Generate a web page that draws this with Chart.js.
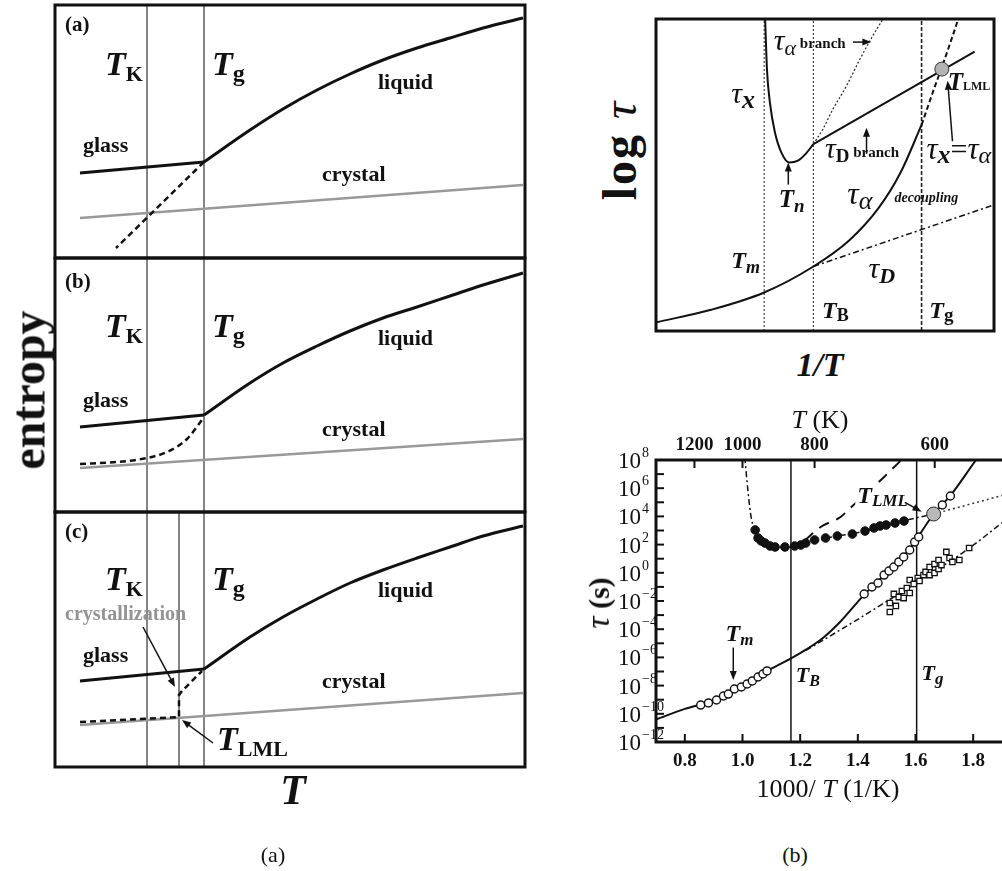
<!DOCTYPE html>
<html>
<head>
<meta charset="utf-8">
<script src="https://cdn.jsdelivr.net/npm/chart.js@4.4.0/dist/chart.umd.min.js"></script>
<style>
  body { margin: 0; width: 1002px; height: 871px; overflow: hidden; background: #fff; position: relative; font-family: 'Liberation Serif', serif; color: #111; }
  canvas { position: absolute; }
  .lbl { position: absolute; white-space: nowrap; line-height: 1; }
  .rot { transform: translate(-50%, -50%) rotate(-90deg); }
  .ctr { transform: translate(-50%, -50%); }
</style>
</head>
<body>
<canvas id="entA"></canvas>
<canvas id="entB"></canvas>
<canvas id="entC"></canvas>
<canvas id="sketch"></canvas>
<canvas id="taus"></canvas>

<div class="lbl rot" style="left:28px;top:390px;font:bold 48px 'Liberation Serif',serif;">entropy</div>
<div class="lbl ctr" style="left:293px;top:790px;font:italic bold 42px 'Liberation Serif',serif;">T</div>
<div class="lbl ctr" style="left:273px;top:855px;font:22px 'Liberation Serif',serif;">(a)</div>
<div class="lbl ctr" style="left:795px;top:855px;font:22px 'Liberation Serif',serif;">(b)</div>

<div class="lbl rot" style="left:619px;top:150px;font:bold 48px 'Liberation Serif',serif;letter-spacing:2px;">log <span style="font-style:italic;font-weight:normal;">τ</span></div>
<div class="lbl ctr" style="left:820px;top:365px;font:italic bold 34px 'Liberation Serif',serif;">1/T</div>

<div class="lbl ctr" style="left:820px;top:420px;font:26px 'Liberation Serif',serif;"><i>T</i> (K)</div>
<div class="lbl ctr" style="left:828px;top:789px;font:26px 'Liberation Serif',serif;">1000/ <i>T</i> (1/K)</div>
<div class="lbl rot" style="left:598px;top:603px;font:bold 30px 'Liberation Serif',serif;"><span style="font-style:italic;font-weight:normal;font-size:34px;">τ</span> (s)</div>

<script>
// ---------- entropy vs T sketches (arbitrary units) ----------
const T_K = 92, T_G = 149, T_LML = 124;

const glassA = [[25, 85], [149, 96]];
const liquidA = [[149, 96], [195, 128], [228, 149], [262, 168], [295, 184], [328, 198], [362, 210], [395, 220], [428, 230], [468, 240]];
const crystalA = [[25, 40], [468, 73]];
const supercooledA = [[149, 96], [61, 10]];

const glassB = [[25, 85], [149, 97]];
const liquidB = [[149, 97], [195, 129], [228, 149], [262, 166], [295, 181], [328, 194], [362, 205], [395, 216], [428, 227], [468, 239]];
const crystalB = [[25, 44], [468, 73]];
const supercooledB = [[25, 48], [62, 50], [92, 54], [112, 60], [132, 73], [147, 92]];

const glassC = [[25, 86], [149, 98]];
const liquidC = [[149, 98], [195, 130], [228, 150], [262, 168], [295, 184], [328, 197], [362, 209], [395, 220], [428, 231], [468, 241]];
const crystalC = [[25, 42], [468, 74]];
const supercooledC = [[25, 45], [124, 50], [124, 72], [127, 76], [147, 96]];

// ---------- log tau vs 1/T schematic (arbitrary units) ----------
const X_M = 112, X_B = 163, X_G = 275;
const tauAlpha = [[0, 9], [57, 22], [112, 40], [163, 67], [200, 94], [230, 127], [253, 164], [275, 214]];
const tauAlphaGlass = [[275, 214], [287, 249], [296, 274], [305, 300], [313, 324]];
const tauD = [[163, 67], [350, 131]];
const tauX = [[113, 324], [115, 270], [118, 237], [123, 207], [130, 185], [138, 175], [147, 177], [155, 184], [163, 194]];
const tauDBranch = [[163, 194], [330, 290]];
const tauAlphaBranch = [[163, 194], [173, 210], [183, 230], [197, 254], [210, 280], [223, 304], [235, 324]];
const lmlPoint = [[296, 272]];

// ---------- measured relaxation times, x = 1000/T (1/K), y = log10(tau / s) ----------
const xTicks = [0.8, 1.0, 1.2, 1.4, 1.6, 1.8];
const tempTicks = [1200, 1000, 800, 600];
const yExp = [-12, -10, -8, -6, -4, -2, 0, 2, 4, 6, 8];
const invTB = 1.168, invTg = 1.604;

const alphaData = [
  [0.855, -9.38], [0.882, -9.23], [0.910, -9.02], [0.934, -8.74], [0.951, -8.60], [0.972, -8.24],
  [0.996, -8.10], [1.016, -7.89], [1.034, -7.67], [1.054, -7.39], [1.071, -7.18], [1.085, -6.96],
  [1.422, -1.50], [1.449, -1.01], [1.470, -0.72], [1.491, -0.16], [1.508, 0.13], [1.525, 0.41],
  [1.542, 0.77], [1.559, 1.12], [1.580, 1.62], [1.597, 2.18], [1.611, 2.54], [1.693, 4.81], [1.721, 5.45]
];
const crystData = [
  [1.044, 3.04], [1.054, 2.47], [1.065, 2.26], [1.078, 2.11], [1.096, 1.90], [1.113, 1.83],
  [1.147, 1.83], [1.181, 1.90], [1.202, 1.97], [1.219, 2.11], [1.250, 2.33], [1.288, 2.47],
  [1.329, 2.61], [1.381, 2.75], [1.425, 2.96], [1.456, 3.18], [1.477, 3.32], [1.498, 3.39],
  [1.529, 3.53], [1.560, 3.67]
];
const decoupData = [
  [1.511, -2.78], [1.511, -2.14], [1.532, -2.35], [1.525, -1.50], [1.542, -1.72], [1.559, -1.79],
  [1.553, -1.29], [1.570, -1.08], [1.580, -1.43], [1.580, -0.51], [1.594, -0.79], [1.608, -0.37],
  [1.614, -0.58], [1.628, -0.16], [1.635, 0.06], [1.649, -0.16], [1.649, 0.41], [1.666, -0.01],
  [1.666, 0.62], [1.680, 0.27], [1.680, 0.91], [1.690, 0.55], [1.707, 1.48], [1.718, 1.05],
  [1.728, 0.77], [1.752, 0.91], [1.786, 1.76]
];
const lmlData = [[1.663, 4.17]];
const alphaFit = [
  [0.70, -10.4], [0.80, -9.65], [0.90, -9.05], [1.00, -8.05], [1.10, -6.8], [1.17, -6.05],
  [1.22, -5.45], [1.28, -4.6], [1.34, -3.45], [1.42, -1.6], [1.50, 0.0], [1.58, 1.7],
  [1.663, 4.17], [1.72, 5.45], [1.81, 8.0], [1.84, 8.8]
];
const decoupFit = [[1.22, -5.5], [1.40, -3.3], [1.51, -1.9], [1.65, -0.1], [1.79, 1.8], [1.90, 3.55]];
const crystFit = [
  [1.008, 8.2], [1.018, 6.0], [1.028, 4.2], [1.040, 3.1], [1.054, 2.5], [1.075, 2.1], [1.10, 1.9],
  [1.15, 1.8], [1.20, 1.95], [1.30, 2.5], [1.40, 2.85], [1.50, 3.4], [1.56, 3.7], [1.663, 4.17]
];
const crystExt = [[1.663, 4.17], [1.90, 5.48]];
const alphaBranchFit = [[1.216, 2.3], [1.271, 3.25], [1.340, 3.96], [1.374, 4.6], [1.491, 6.8], [1.546, 7.9], [1.56, 8.2]];

// ---------- helpers ----------
const SERIF = "'Liberation Serif', 'Times New Roman', serif";
const R = s => `${s}px ${SERIF}`;
const B = s => `bold ${s}px ${SERIF}`;
const I = s => `italic ${s}px ${SERIF}`;
const BI = s => `italic bold ${s}px ${SERIF}`;

const pts = a => a.map(([x, y]) => ({ x, y }));

function line(data, color, width, dash, smooth) {
  return {
    data: pts(data), showLine: true, borderColor: color, borderWidth: width,
    borderDash: dash || [], pointRadius: 0, fill: false,
    cubicInterpolationMode: smooth ? 'monotone' : 'default', tension: 0
  };
}

function vline(x, y0, y1, color, width, dash) {
  return line([[x, y0], [x, y1]], color, width, dash);
}

function place(id, left, top, w, h) {
  const c = document.getElementById(id);
  c.width = w; c.height = h;
  c.style.left = left + 'px'; c.style.top = top + 'px';
  return c;
}

// text runs with their own font and baseline shift; knockout paints white behind first
function drawRich(ctx, px, py, parts, knockout) {
  ctx.textBaseline = 'alphabetic';
  ctx.textAlign = 'left';
  if (knockout) {
    let w = 0;
    parts.forEach(p => { ctx.font = p.f; w += ctx.measureText(p.t).width + (p.dx || 0); });
    ctx.fillStyle = '#fff';
    ctx.fillRect(px - 2, py - 20, w + 4, 26);
  }
  let cx = px;
  parts.forEach(p => {
    ctx.font = p.f;
    ctx.fillStyle = p.c || '#111';
    cx += p.dx || 0;
    ctx.fillText(p.t, cx, py + (p.dy || 0));
    cx += ctx.measureText(p.t).width;
  });
}

function drawArrow(ctx, x0, y0, x1, y1) {
  const ang = Math.atan2(y1 - y0, x1 - x0);
  const len = 9, half = 3.5;
  ctx.strokeStyle = '#111'; ctx.fillStyle = '#111'; ctx.lineWidth = 1.5; ctx.setLineDash([]);
  ctx.beginPath();
  ctx.moveTo(x0, y0);
  ctx.lineTo(x1 - Math.cos(ang) * len * 0.8, y1 - Math.sin(ang) * len * 0.8);
  ctx.stroke();
  ctx.beginPath();
  ctx.moveTo(x1, y1);
  ctx.lineTo(x1 - Math.cos(ang) * len - Math.sin(ang) * half, y1 - Math.sin(ang) * len + Math.cos(ang) * half);
  ctx.lineTo(x1 - Math.cos(ang) * len + Math.sin(ang) * half, y1 - Math.sin(ang) * len - Math.cos(ang) * half);
  ctx.closePath();
  ctx.fill();
}

// frame, arrows and in-plot labels, all placed in data units
function decor(cfg) {
  return {
    id: 'decor',
    afterDatasetsDraw(chart) {
      const { ctx, chartArea: a, scales: { x, y } } = chart;
      ctx.save();
      ctx.setLineDash([]);
      ctx.strokeStyle = '#111';
      ctx.lineWidth = cfg.frame || 3;
      ctx.strokeRect(a.left, a.top, a.right - a.left, a.bottom - a.top);
      (cfg.arrows || []).forEach(r => drawArrow(ctx,
        x.getPixelForValue(r[0]), y.getPixelForValue(r[1]),
        x.getPixelForValue(r[2]), y.getPixelForValue(r[3])));
      (cfg.labels || []).forEach(l => drawRich(ctx, x.getPixelForValue(l.x), y.getPixelForValue(l.y), l.parts));
      ctx.restore();
    }
  };
}

function baseOptions(xr, yr, pad) {
  return {
    responsive: false, animation: false, devicePixelRatio: 1, events: [],
    layout: { padding: pad },
    plugins: { legend: { display: false }, tooltip: { enabled: false } },
    scales: {
      x: { type: 'linear', min: xr[0], max: xr[1], display: false },
      y: { type: 'linear', min: yr[0], max: yr[1], display: false }
    }
  };
}

const TSUB = (sub, y) => ({ x: 50, y, parts: [{ t: 'T', f: BI(34) }, { t: sub, f: B(22), dy: 6 }] });
const TG = y => ({ x: 157, y, parts: [{ t: 'T', f: BI(34) }, { t: 'g', f: B(24), dy: 6 }] });
const word = (t, x, y, c, f) => ({ x, y, parts: [{ t, f: f || B(22), c }] });

function entropyPanel(id, top, h, glass, liquid, crystal, supercooled, vlines, labels, arrows, straightDash) {
  place(id, 53, top - 2, 474, h + 4);
  const sets = [
    line(glass, '#111', 3),
    line(liquid, '#111', 3, null, true),
    line(supercooled, '#111', 2.5, [6, 4], !straightDash),
    line(crystal, '#999', 2.5)
  ];
  vlines.forEach(v => sets.push(vline(v, 0, h, '#333', 1.2)));
  new Chart(document.getElementById(id), {
    type: 'scatter',
    data: { datasets: sets },
    options: baseOptions([0, 470], [0, h], 2),
    plugins: [decor({ labels, arrows })]
  });
}

// ---------- left: three entropy scenarios ----------
entropyPanel('entA', 5, 253, glassA, liquidA, crystalA, supercooledA, [T_K, T_G], [
  word('(a)', 10, 227, '#111', B(21)), TSUB('K', 183), TG(183),
  word('liquid', 323, 169), word('glass', 28, 106), word('crystal', 267, 77)
], [], true);

entropyPanel('entB', 258, 254, glassB, liquidB, crystalB, supercooledB, [T_K, T_G], [
  word('(b)', 10, 224, '#111', B(21)), TSUB('K', 175), TG(175),
  word('liquid', 323, 167), word('glass', 28, 105), word('crystal', 267, 76)
], [], false);

entropyPanel('entC', 512, 255, glassC, liquidC, crystalC, supercooledC, [T_K, T_LML, T_G], [
  word('(c)', 10, 229, '#111', B(21)), TSUB('K', 177), TG(177),
  word('crystallization', 10, 147, '#939393', B(20)),
  word('liquid', 323, 170), word('glass', 28, 105), word('crystal', 267, 79),
  { x: 162, y: 17, parts: [{ t: 'T', f: BI(34) }, { t: 'LML', f: B(22), dy: 6 }] }
], [[88, 140, 120, 80], [158, 24, 127, 47]], true);

// ---------- top right: log tau vs 1/T schematic ----------
place('sketch', 648, 11, 354, 328);
new Chart(document.getElementById('sketch'), {
  type: 'scatter',
  data: {
    datasets: [
      { data: pts(lmlPoint), pointRadius: 7, backgroundColor: '#b3b3b3', borderColor: '#333', borderWidth: 1 },
      line(tauAlpha, '#111', 2, null, true),
      line(tauAlphaGlass, '#111', 2, [5, 3], true),
      line(tauD, '#111', 1.5, [6, 3, 2, 3]),
      line(tauX, '#111', 2, null, true),
      line(tauDBranch, '#111', 2),
      line(tauAlphaBranch, '#333', 1.3, [2, 2], true),
      vline(X_M, 0, 324, '#444', 1.2, [2, 2]),
      vline(X_B, 0, 324, '#444', 1.2, [2, 2]),
      vline(X_G, 0, 324, '#222', 1.6, [4, 2])
    ]
  },
  options: baseOptions([0, 350], [0, 324], 2),
  plugins: [decor({
    frame: 3,
    labels: [
      { x: 122, y: 292, parts: [{ t: 'τ', f: I(30) }, { t: 'α', f: I(22), dy: 5 }, { t: ' branch', f: B(15), dy: -2 }] },
      { x: 78, y: 237, parts: [{ t: 'τ', f: I(30) }, { t: 'x', f: BI(26), dy: 5 }] },
      { x: 127, y: 129, parts: [{ t: 'T', f: BI(25) }, { t: 'n', f: BI(19), dy: 5 }] },
      { x: 175, y: 180, parts: [{ t: 'τ', f: I(30) }, { t: 'D', f: B(19), dy: 4 }, { t: ' branch', f: B(15), dy: -1 }] },
      { x: 198, y: 132, parts: [{ t: 'τ', f: I(32) }, { t: 'α', f: I(26), dy: 5 }] },
      { x: 247, y: 134, parts: [{ t: 'decoupling', f: BI(14) }] },
      { x: 78, y: 65, parts: [{ t: 'T', f: BI(24) }, { t: 'm', f: BI(18), dy: 5 }] },
      { x: 220, y: 55, parts: [{ t: 'τ', f: I(30) }, { t: 'D', f: BI(22), dy: 5 }] },
      { x: 172, y: 14, parts: [{ t: 'T', f: BI(24) }, { t: 'B', f: B(18), dy: 3 }] },
      { x: 283, y: 14, parts: [{ t: 'T', f: BI(24) }, { t: 'g', f: B(19), dy: 3 }] },
      { x: 302, y: 250, parts: [{ t: 'T', f: BI(25) }, { t: 'LML', f: B(12) }] },
      { x: 280, y: 179, parts: [{ t: 'τ', f: I(31) }, { t: 'x', f: BI(26), dy: 4 }, { t: '=', f: R(30) }, { t: 'τ', f: I(31) }, { t: 'α', f: I(24), dy: 4 }] }
    ],
    arrows: [
      [204, 300, 223, 300], [137, 152, 137, 175], [218, 184, 218, 211], [307, 197, 302, 260]
    ]
  })]
});

// ---------- bottom right: measured tau vs 1000/T ----------
const axesPlugin = {
  id: 'axes',
  afterDatasetsDraw(chart) {
    const { ctx, chartArea: a, scales: { x, y } } = chart;
    ctx.save();
    ctx.setLineDash([]);
    ctx.strokeStyle = '#111';
    ctx.lineWidth = 3;
    ctx.beginPath();
    ctx.moveTo(1010, a.top); ctx.lineTo(a.left, a.top); ctx.lineTo(a.left, a.bottom); ctx.lineTo(1010, a.bottom);
    ctx.stroke();
    ctx.lineWidth = 2;
    // left ticks every decade, labels every two
    for (let e = -12; e <= 8; e++) {
      const py = y.getPixelForValue(e);
      ctx.beginPath(); ctx.moveTo(a.left, py); ctx.lineTo(a.left + 8, py); ctx.stroke();
    }
    ctx.fillStyle = '#111';
    yExp.forEach(e => {
      const py = y.getPixelForValue(e);
      ctx.font = R(23); ctx.textAlign = 'right'; ctx.textBaseline = 'alphabetic';
      ctx.fillText('10', a.left - 15, py + 8);
      ctx.font = R(14); ctx.textAlign = 'left';
      ctx.fillText(e < 0 ? '−' + (-e) : String(e), a.left - 14, py - 3);
    });
    // bottom ticks
    xTicks.forEach(v => {
      const px = x.getPixelForValue(v);
      ctx.beginPath(); ctx.moveTo(px, a.bottom); ctx.lineTo(px, a.bottom - 8); ctx.stroke();
      ctx.font = B(19); ctx.textAlign = 'center'; ctx.textBaseline = 'alphabetic';
      ctx.fillText(v.toFixed(1), px, a.bottom + 24);
    });
    // top temperature ticks
    tempTicks.forEach(T => {
      const px = x.getPixelForValue(1000 / T);
      ctx.beginPath(); ctx.moveTo(px, a.top); ctx.lineTo(px, a.top + 8); ctx.stroke();
      ctx.font = B(19); ctx.textAlign = 'center';
      ctx.fillText(String(T), px, a.top - 10);
    });
    const lbl = (v, e, parts, ko) => drawRich(ctx, x.getPixelForValue(v), y.getPixelForValue(e), parts, ko);
    lbl(1.398, 4.95, [{ t: 'T', f: BI(24) }, { t: 'LML', f: BI(17), dy: 3 }], true);
    lbl(0.941, -4.84, [{ t: 'T', f: BI(24) }, { t: 'm', f: BI(17), dy: 4 }]);
    lbl(1.185, -7.74, [{ t: 'T', f: BI(22) }, { t: 'B', f: BI(16), dy: 4 }]);
    lbl(1.621, -7.6, [{ t: 'T', f: BI(22) }, { t: 'g', f: BI(17), dy: 4 }]);
    const arr = (x0, y0, x1, y1) => drawArrow(ctx, x.getPixelForValue(x0), y.getPixelForValue(y0), x.getPixelForValue(x1), y.getPixelForValue(y1));
    arr(1.563, 5.0, 1.621, 4.33);
    arr(0.968, -5.3, 0.968, -7.6);
    ctx.restore();
  }
};

place('taus', 590, 400, 420, 420);
new Chart(document.getElementById('taus'), {
  type: 'scatter',
  data: {
    datasets: [
      { data: pts(lmlData), pointRadius: 7, backgroundColor: '#b8b8b8', borderColor: '#222', borderWidth: 1 },
      { data: pts(alphaData), pointRadius: 4, pointStyle: 'circle', backgroundColor: '#fff', borderColor: '#111', borderWidth: 1.4 },
      { data: pts(crystData), pointRadius: 4.3, pointStyle: 'circle', backgroundColor: '#111', borderColor: '#111', borderWidth: 1 },
      { data: pts(decoupData), pointRadius: 3.8, pointStyle: 'rect', backgroundColor: '#fff', borderColor: '#111', borderWidth: 1.3 },
      line(alphaFit, '#111', 2, null, true),
      line(decoupFit, '#111', 1.5, [6, 3, 2, 3], true),
      line(crystFit, '#111', 1.5, [6, 3, 2, 3], true),
      line(crystExt, '#333', 1.5, [2, 3]),
      line(alphaBranchFit, '#111', 2, [11, 8], true),
      vline(invTB, -12, 8, '#111', 1.5),
      vline(invTg, -12, 8, '#111', 1.5)
    ]
  },
  options: baseOptions([0.7, 1.9], [-12, 8], { left: 66, right: 4, top: 60, bottom: 78 }),
  plugins: [axesPlugin]
});
</script>
</body>
</html>
